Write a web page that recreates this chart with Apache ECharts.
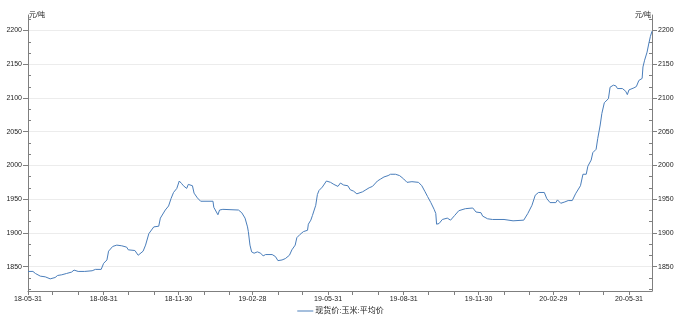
<!DOCTYPE html>
<html><head><meta charset="utf-8">
<script src="https://cdn.jsdelivr.net/npm/echarts@6/dist/echarts.min.js"></script>
<style>html,body{margin:0;padding:0;background:#fff}#c{width:681px;height:318px}</style>
</head><body><div id="c"></div>
<script>
const seriesName = '现货价:玉米:平均价';
const unitName = '元/吨';
const firstDay = '2018-05-31';
const lastDay = '2020-06-28';
const tickLabels = ['18-05-31','18-08-31','18-11-30','19-02-28','19-05-31','19-08-31','19-11-30','20-02-29','20-05-31'];
const dates = [
'2018-05-31','2018-06-06','2018-06-09','2018-06-15','2018-06-21','2018-06-27','2018-07-03','2018-07-06','2018-07-11','2018-07-17',
'2018-07-23','2018-07-26','2018-07-31','2018-08-08','2018-08-17','2018-08-21','2018-08-28','2018-08-31','2018-09-04','2018-09-06',
'2018-09-11','2018-09-16','2018-09-22','2018-09-28','2018-09-30','2018-10-08','2018-10-12','2018-10-18','2018-10-21','2018-10-25',
'2018-10-31','2018-11-06','2018-11-08','2018-11-14','2018-11-18','2018-11-21','2018-11-24','2018-11-28','2018-12-01','2018-12-04',
'2018-12-06','2018-12-10','2018-12-12','2018-12-17','2018-12-19','2018-12-23','2018-12-27','2019-01-11','2019-01-12','2019-01-17',
'2019-01-19','2019-01-23','2019-02-11','2019-02-15','2019-02-19','2019-02-22','2019-02-23','2019-02-25','2019-02-27','2019-03-02',
'2019-03-06','2019-03-10','2019-03-13','2019-03-16','2019-03-24','2019-03-28','2019-03-31','2019-04-05','2019-04-09','2019-04-14',
'2019-04-17','2019-04-21','2019-04-23','2019-04-27','2019-05-01','2019-05-06','2019-05-07','2019-05-10','2019-05-12','2019-05-16',
'2019-05-18','2019-05-20','2019-05-24','2019-05-29','2019-06-03','2019-06-07','2019-06-09','2019-06-12','2019-06-15','2019-06-19',
'2019-06-24','2019-06-27','2019-07-01','2019-07-05','2019-07-12','2019-07-16','2019-07-20','2019-07-24','2019-07-30','2019-08-03',
'2019-08-07','2019-08-12','2019-08-15','2019-08-21','2019-08-26','2019-08-31','2019-09-04','2019-09-10','2019-09-18','2019-09-22',
'2019-09-26','2019-09-29','2019-10-03','2019-10-07','2019-10-09','2019-10-10','2019-10-13','2019-10-17','2019-10-23','2019-10-27',
'2019-11-01','2019-11-06','2019-11-14','2019-11-23','2019-11-27','2019-12-03','2019-12-05','2019-12-11','2019-12-17','2019-12-31',
'2020-01-11','2020-01-24','2020-01-29','2020-02-03','2020-02-07','2020-02-11','2020-02-18','2020-02-21','2020-02-25','2020-03-03',
'2020-03-05','2020-03-09','2020-03-14','2020-03-18','2020-03-23','2020-03-27','2020-04-02','2020-04-05','2020-04-09','2020-04-11',
'2020-04-15','2020-04-17','2020-04-21','2020-04-23','2020-04-26','2020-04-28','2020-05-01','2020-05-06','2020-05-08','2020-05-12',
'2020-05-15','2020-05-17','2020-05-23','2020-05-27','2020-05-29','2020-05-31','2020-06-06','2020-06-09','2020-06-12','2020-06-16',
'2020-06-17','2020-06-19','2020-06-22','2020-06-24','2020-06-26','2020-06-28'
];
const prices = [
1843,1843,1840,1836,1835,1832,1834,1837,1838,1840,
1842,1845,1843,1843,1844,1846,1846,1855,1860,1873,
1880,1882,1881,1879,1875,1874,1867,1873,1882,1899,
1909,1910,1922,1934,1940,1951,1960,1966,1977,1973,
1970,1966,1972,1970,1959,1952,1947,1947,1938,1927,
1934,1935,1934,1930,1922,1909,1902,1882,1872,1870,
1872,1870,1866,1868,1868,1865,1859,1860,1862,1867,
1875,1882,1893,1898,1902,1904,1913,1919,1926,1941,
1957,1963,1968,1977,1975,1972,1973,1969,1974,1971,
1970,1964,1962,1958,1961,1964,1967,1969,1977,1980,
1983,1985,1987,1987,1985,1980,1975,1976,1975,1970,
1961,1954,1945,1935,1929,1913,1914,1920,1922,1919,
1926,1933,1936,1937,1931,1930,1925,1921,1920,1920,
1918,1919,1929,1941,1956,1960,1960,1951,1945,1945,
1949,1944,1946,1948,1948,1958,1970,1987,1987,1999,
2008,2019,2024,2040,2060,2077,2093,2099,2116,2119,
2118,2114,2114,2110,2105,2112,2115,2117,2126,2129,
2146,2156,2168,2180,2191,2199
];

// daily category domain
const categories = [];
{
  const p0 = firstDay.split('-').map(Number), p1 = lastDay.split('-').map(Number);
  const t1 = Date.UTC(p1[0], p1[1]-1, p1[2]);
  for (let t = Date.UTC(p0[0], p0[1]-1, p0[2]); t <= t1; t += 86400000) {
    categories.push(new Date(t).toISOString().slice(0,10));
  }
}
const labelSet = new Set(tickLabels);
function isMonthEnd(v) {
  const p = v.split('-').map(Number);
  const d = new Date(Date.UTC(p[0], p[1]-1, p[2]) + 86400000);
  return d.getUTCDate() === 1;
}

const FONT = '"Liberation Sans", Arial, "Noto Sans CJK SC", sans-serif';
const AX = '#7f7f7f';
const LINE = '#4a7ebb';
const yCommon = {
  type: 'value', min: 1814, max: 2223, minInterval: 50, maxInterval: 50
};
const yFmt = v => String(Math.round(v));

const chart = echarts.init(document.getElementById('c'), null, {renderer: 'canvas'});
chart.setOption({
  animation: false,
  backgroundColor: '#fff',
  textStyle: {fontFamily: FONT},
  grid: {left: 28, right: 29, top: 15, bottom: 27, containLabel: false},
  legend: {
    data: [{name: seriesName, icon: 'rect', itemStyle: {color: LINE}}],
    left: 'center', top: 302,
    itemWidth: 16, itemHeight: 1, itemGap: 4,
    textStyle: {fontSize: 8, color: '#222', fontFamily: FONT, padding: [0,0,0,-3]}
  },
  xAxis: {
    type: 'category', data: categories, boundaryGap: false,
    axisLine: {show: true, lineStyle: {color: AX, width: 1}},
    axisTick: {show: true, length: 4, lineStyle: {color: AX},
      interval: (i, v) => isMonthEnd(v) || i === 0},
    axisLabel: {show: true, fontSize: 7, color: '#222', margin: 5,
      interval: (i, v) => labelSet.has(v.slice(2)),
      formatter: v => v.slice(2)},
    splitLine: {show: false}
  },
  yAxis: [
    Object.assign({}, yCommon, {
      position: 'left', name: unitName, nameLocation: 'end', nameGap: 0,
      nameTextStyle: {fontSize: 7, color: '#222', align: 'left', verticalAlign: 'middle', padding: [0,0,0,1]},
      axisLine: {show: true, lineStyle: {color: AX}},
      axisTick: {show: true, length: 5, lineStyle: {color: AX}},
      axisLabel: {fontSize: 7, color: '#222', margin: 6, showMinLabel: false, showMaxLabel: false, formatter: yFmt},
      splitLine: {show: true, showMinLine: false, showMaxLine: false, lineStyle: {color: '#ececec', width: 1}}
    }),
    Object.assign({}, yCommon, {
      position: 'right', name: unitName, nameLocation: 'end', nameGap: 0,
      nameTextStyle: {fontSize: 7, color: '#222', align: 'right', verticalAlign: 'middle', padding: [0,1,0,0]},
      axisLine: {show: true, lineStyle: {color: AX}},
      axisTick: {show: true, length: 5, lineStyle: {color: AX}},
      axisLabel: {fontSize: 7, color: '#222', margin: 6, showMinLabel: false, showMaxLabel: false, formatter: yFmt},
      splitLine: {show: false}
    }),
    Object.assign({}, yCommon, {
      position: 'left',
      axisLine: {show: false}, axisLabel: {show: false}, splitLine: {show: false},
      axisTick: {show: false, inside: true},
      minorTick: {show: true, splitNumber: 3, length: 3, lineStyle: {color: AX}}
    }),
    Object.assign({}, yCommon, {
      position: 'right',
      axisLine: {show: false}, axisLabel: {show: false}, splitLine: {show: false},
      axisTick: {show: false, inside: true},
      minorTick: {show: true, splitNumber: 3, length: 3, lineStyle: {color: AX}}
    })
  ],
  series: [{
    name: seriesName, type: 'line', yAxisIndex: 0,
    data: dates.map((d, i) => [d, prices[i]]),
    symbol: 'none', showSymbol: false,
    lineStyle: {color: LINE, width: 1},
    itemStyle: {color: LINE}
  }]
});
</script>
</body></html>
